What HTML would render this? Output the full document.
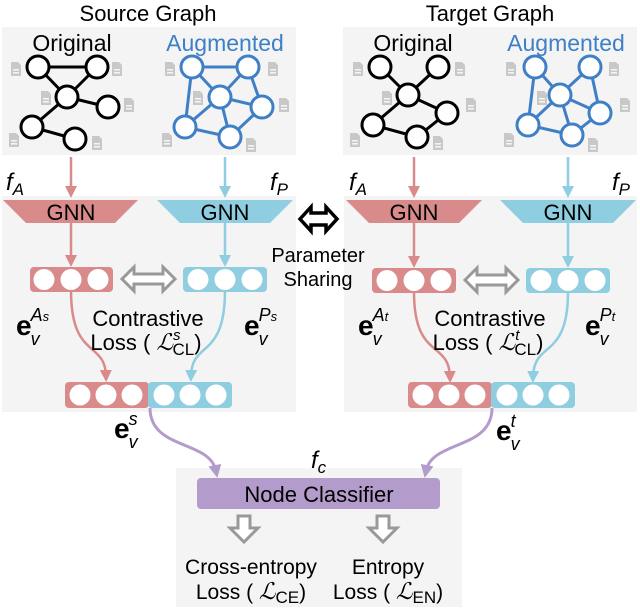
<!DOCTYPE html>
<html><head><meta charset="utf-8"><style>
html,body{margin:0;padding:0;background:#fff}
svg{display:block}
text{font-family:"Liberation Sans",sans-serif}
</style></head><body>
<svg width="640" height="609" viewBox="0 0 640 609" xmlns="http://www.w3.org/2000/svg">
<defs>
<g id="doc"><path d="M0,0 h7 l3,3 v11 h-10 z" fill="#c8c8c8"/><rect x="2" y="7" width="6" height="1.6" fill="#f4f4f4"/><rect x="2" y="10" width="6" height="1.6" fill="#f4f4f4"/></g>
<marker id="ap" markerWidth="12" markerHeight="12" refX="6" refY="6" orient="auto" markerUnits="userSpaceOnUse"><path d="M0,0 L12,6 L0,12 z" fill="#d98a8a"/></marker>
<marker id="ab" markerWidth="12" markerHeight="12" refX="6" refY="6" orient="auto" markerUnits="userSpaceOnUse"><path d="M0,0 L12,6 L0,12 z" fill="#8fcde0"/></marker>
<marker id="au" markerWidth="13" markerHeight="13" refX="6" refY="6.5" orient="auto" markerUnits="userSpaceOnUse"><path d="M0,0 L13,6.5 L0,13 z" fill="#b39ccb"/></marker>
</defs>
<rect x="2" y="27" width="294" height="128" fill="#f4f4f4"/>
<rect x="2" y="196" width="294" height="216" fill="#f4f4f4"/>
<rect x="343" y="27" width="294" height="128" fill="#f4f4f4"/>
<rect x="344" y="196" width="293" height="216" fill="#f4f4f4"/>
<rect x="176" y="468" width="286" height="139" fill="#f4f4f4"/>

<text x="148" y="21" font-size="22" text-anchor="middle">Source Graph</text>
<text x="490" y="21" font-size="22" text-anchor="middle">Target Graph</text>
<text x="72" y="51" font-size="23" text-anchor="middle">Original</text>
<text x="225" y="51" font-size="23" text-anchor="middle" fill="#3f7fc5">Augmented</text>
<text x="413" y="51" font-size="23" text-anchor="middle">Original</text>
<text x="566" y="51" font-size="23" text-anchor="middle" fill="#3f7fc5">Augmented</text>

<g>
<use href="#doc" x="11" y="62"/><use href="#doc" x="112" y="62"/><use href="#doc" x="41" y="91"/><use href="#doc" x="124" y="98"/><use href="#doc" x="9" y="133"/><use href="#doc" x="92" y="136"/>
<use href="#doc" x="165" y="62"/><use href="#doc" x="268" y="62"/><use href="#doc" x="193" y="91"/><use href="#doc" x="279" y="98"/><use href="#doc" x="162" y="133"/><use href="#doc" x="246" y="138"/>
<use href="#doc" x="353" y="62"/><use href="#doc" x="455" y="62"/><use href="#doc" x="382" y="91"/><use href="#doc" x="466" y="98"/><use href="#doc" x="350" y="133"/><use href="#doc" x="433" y="136"/>
<use href="#doc" x="506" y="62"/><use href="#doc" x="609" y="62"/><use href="#doc" x="537" y="91"/><use href="#doc" x="620" y="98"/><use href="#doc" x="504" y="133"/><use href="#doc" x="588" y="138"/>
</g>

<g stroke="#000" stroke-width="3" fill="#fff">
<path d="M38,67 L97,67 M38,67 L67,97 M97,67 L67,97 M67,97 L108,107 M67,97 L32,127 M32,127 L75,139" fill="none"/>
<circle cx="38" cy="67" r="11"/><circle cx="97" cy="67" r="11"/><circle cx="67" cy="97" r="11"/><circle cx="108" cy="107" r="11"/><circle cx="32" cy="127" r="11"/><circle cx="75" cy="139" r="11"/>
</g>
<g stroke="#000" stroke-width="3" fill="#fff">
<path d="M380,67 L408,95 M438,67 L408,95 M408,95 L447,113 M447,113 L417,137 M373,125 L417,137 M408,95 L373,125" fill="none"/>
<circle cx="380" cy="67" r="11"/><circle cx="438" cy="67" r="11"/><circle cx="408" cy="95" r="11"/><circle cx="447" cy="113" r="11"/><circle cx="373" cy="125" r="11"/><circle cx="417" cy="137" r="11"/>
</g>
<g stroke="#3f7fc5" stroke-width="3" fill="#fff">
<path d="M192,67 L248,67 M192,67 L220,97 M248,67 L220,97 M248,67 L262,107 M220,97 L262,107 M220,97 L230,137 M262,107 L230,137 M192,67 L185,127 M185,127 L230,137 M220,97 L185,127" fill="none"/>
<circle cx="192" cy="67" r="11"/><circle cx="248" cy="67" r="11"/><circle cx="220" cy="97" r="11"/><circle cx="262" cy="107" r="11"/><circle cx="185" cy="127" r="11"/><circle cx="230" cy="137" r="11"/>
</g>
<g stroke="#3f7fc5" stroke-width="3" fill="#fff">
<path d="M535,67 L560,95 M590,67 L560,95 M590,67 L600,113 M560,95 L600,113 M560,95 L572,135 M600,113 L572,135 M535,67 L528,125 M528,125 L572,135 M560,95 L528,125" fill="none"/>
<circle cx="535" cy="67" r="11"/><circle cx="590" cy="67" r="11"/><circle cx="560" cy="95" r="11"/><circle cx="600" cy="113" r="11"/><circle cx="528" cy="125" r="11"/><circle cx="572" cy="135" r="11"/>
</g>

<g font-size="24" font-style="italic">
<text x="6" y="190">f<tspan font-size="17" dy="5">A</tspan></text>
<text x="270" y="190">f<tspan font-size="17" dy="5">P</tspan></text>
<text x="349" y="190">f<tspan font-size="17" dy="5">A</tspan></text>
<text x="612" y="190">f<tspan font-size="17" dy="5">P</tspan></text>
<text x="311" y="468">f<tspan font-size="17" dy="5">c</tspan></text>
</g>

<line x1="71" y1="157" x2="71" y2="192" stroke="#d98a8a" stroke-width="2.5" marker-end="url(#ap)"/>
<line x1="225" y1="157" x2="225" y2="192" stroke="#8fcde0" stroke-width="2.5" marker-end="url(#ab)"/>
<line x1="414" y1="157" x2="414" y2="192" stroke="#d98a8a" stroke-width="2.5" marker-end="url(#ap)"/>
<line x1="568" y1="157" x2="568" y2="192" stroke="#8fcde0" stroke-width="2.5" marker-end="url(#ab)"/>

<path d="M3,200 H138 L115,223 H26 Z" fill="#d98a8a"/>
<path d="M157,200 H293 L270,223 H180 Z" fill="#8fcde0"/>
<path d="M346,200 H482 L459,223 H369 Z" fill="#d98a8a"/>
<path d="M500,200 H636 L613,223 H523 Z" fill="#8fcde0"/>
<g font-size="22" text-anchor="middle"><text x="71" y="220">GNN</text><text x="225" y="220">GNN</text><text x="414" y="220">GNN</text><text x="568" y="220">GNN</text></g>

<path d="M300,219 L311,207 V213 H326 V207 L337,219 L326,231 V225 H311 V231 Z" fill="#fff" stroke="#000" stroke-width="3.5"/>
<text x="318" y="262" font-size="20" text-anchor="middle">Parameter</text>
<text x="318" y="286" font-size="20" text-anchor="middle">Sharing</text>

<line x1="71" y1="223" x2="71" y2="261" stroke="#d98a8a" stroke-width="2.5" marker-end="url(#ap)"/>
<line x1="225" y1="223" x2="225" y2="261" stroke="#8fcde0" stroke-width="2.5" marker-end="url(#ab)"/>
<line x1="414" y1="223" x2="414" y2="262" stroke="#d98a8a" stroke-width="2.5" marker-end="url(#ap)"/>
<line x1="568" y1="223" x2="568" y2="262" stroke="#8fcde0" stroke-width="2.5" marker-end="url(#ab)"/>

<path d="M71,290 C71,360 105,340 106,376" fill="none" stroke="#d98a8a" stroke-width="2.5" marker-end="url(#ap)"/>
<path d="M225,290 C225,360 192,340 191,376" fill="none" stroke="#8fcde0" stroke-width="2.5" marker-end="url(#ab)"/>
<path d="M414,292 C414,360 449,340 450,377" fill="none" stroke="#d98a8a" stroke-width="2.5" marker-end="url(#ap)"/>
<path d="M568,292 C568,360 534,340 533,377" fill="none" stroke="#8fcde0" stroke-width="2.5" marker-end="url(#ab)"/>

<g fill="#fff">
<rect x="30" y="267" width="83" height="25" rx="4" fill="#d98a8a"/><circle cx="44" cy="279.5" r="10.5"/><circle cx="71" cy="279.5" r="10.5"/><circle cx="98" cy="279.5" r="10.5"/>
<rect x="183" y="267" width="84" height="25" rx="4" fill="#8fcde0"/><circle cx="198" cy="279.5" r="10.5"/><circle cx="225" cy="279.5" r="10.5"/><circle cx="252" cy="279.5" r="10.5"/>
<rect x="372" y="268" width="84" height="25" rx="4" fill="#d98a8a"/><circle cx="387" cy="280.5" r="10.5"/><circle cx="414" cy="280.5" r="10.5"/><circle cx="441" cy="280.5" r="10.5"/>
<rect x="526" y="268" width="84" height="25" rx="4" fill="#8fcde0"/><circle cx="541" cy="280.5" r="10.5"/><circle cx="568" cy="280.5" r="10.5"/><circle cx="595" cy="280.5" r="10.5"/>
<rect x="65" y="382" width="84" height="26" rx="4" fill="#d98a8a"/><rect x="148" y="382" width="84" height="26" rx="4" fill="#8fcde0"/>
<circle cx="80" cy="395" r="10.5"/><circle cx="106" cy="395" r="10.5"/><circle cx="132" cy="395" r="10.5"/><circle cx="164" cy="395" r="10.5"/><circle cx="190" cy="395" r="10.5"/><circle cx="216" cy="395" r="10.5"/>
<rect x="408" y="382" width="84" height="26" rx="4" fill="#d98a8a"/><rect x="491" y="382" width="84" height="26" rx="4" fill="#8fcde0"/>
<circle cx="423" cy="395" r="10.5"/><circle cx="449" cy="395" r="10.5"/><circle cx="475" cy="395" r="10.5"/><circle cx="507" cy="395" r="10.5"/><circle cx="533" cy="395" r="10.5"/><circle cx="559" cy="395" r="10.5"/>
</g>

<path d="M122,279 L134,267 V274 H163 V267 L175,279 L163,291 V284 H134 V291 Z" fill="#fff" stroke="#999" stroke-width="3"/>
<path d="M465,280 L477,268 V275 H506 V268 L518,280 L506,292 V285 H477 V292 Z" fill="#fff" stroke="#999" stroke-width="3"/>

<g font-size="22" text-anchor="middle">
<text x="148" y="326">Contrastive</text>
<text x="146" y="350">Loss ( <tspan font-style="italic" font-family="Liberation Serif" font-size="23">ℒ</tspan><tspan font-size="15" dy="-10" font-style="italic">s</tspan><tspan font-size="17" dx="-8" dy="15">CL</tspan><tspan dy="-5">)</tspan></text>
<text x="490" y="326">Contrastive</text>
<text x="488" y="350">Loss ( <tspan font-style="italic" font-family="Liberation Serif" font-size="23">ℒ</tspan><tspan font-size="15" dy="-10" font-style="italic">t</tspan><tspan font-size="17" dx="-5" dy="15">CL</tspan><tspan dy="-5">)</tspan></text>
</g>

<g font-size="28" font-weight="bold">
<text x="16" y="335">e<tspan font-size="18" font-weight="normal" font-style="italic" dy="10" dx="-1">v</tspan><tspan font-size="18" font-weight="normal" font-style="italic" dy="-24" dx="-9">A<tspan font-size="13">s</tspan></tspan></text>
<text x="244" y="335">e<tspan font-size="18" font-weight="normal" font-style="italic" dy="10" dx="-1">v</tspan><tspan font-size="18" font-weight="normal" font-style="italic" dy="-24" dx="-9">P<tspan font-size="13">s</tspan></tspan></text>
<text x="358" y="335">e<tspan font-size="18" font-weight="normal" font-style="italic" dy="10" dx="-1">v</tspan><tspan font-size="18" font-weight="normal" font-style="italic" dy="-24" dx="-9">A<tspan font-size="13">t</tspan></tspan></text>
<text x="585" y="335">e<tspan font-size="18" font-weight="normal" font-style="italic" dy="10" dx="-1">v</tspan><tspan font-size="18" font-weight="normal" font-style="italic" dy="-24" dx="-9">P<tspan font-size="13">t</tspan></tspan></text>
<text x="114" y="438">e<tspan font-size="18" font-weight="normal" font-style="italic" dy="10" dx="-1">v</tspan><tspan font-size="18" font-weight="normal" font-style="italic" dy="-23" dx="-9">s</tspan></text>
<text x="496" y="440">e<tspan font-size="18" font-weight="normal" font-style="italic" dy="10" dx="-1">v</tspan><tspan font-size="18" font-weight="normal" font-style="italic" dy="-23" dx="-9">t</tspan></text>
</g>

<path d="M150,408 C150,450 210,440 216,471" fill="none" stroke="#b39ccb" stroke-width="3" marker-end="url(#au)"/>
<path d="M492,408 C492,450 432,440 426,471" fill="none" stroke="#b39ccb" stroke-width="3" marker-end="url(#au)"/>

<rect x="197" y="478" width="243" height="31" rx="4" fill="#b39ccb"/>
<text x="319" y="502" font-size="22" text-anchor="middle">Node Classifier</text>

<path d="M238,516 H250 V528 H258 L244,542 L230,528 H238 Z" fill="#fff" stroke="#999" stroke-width="3"/>
<path d="M377,516 H389 V528 H397 L383,542 L369,528 H377 Z" fill="#fff" stroke="#999" stroke-width="3"/>

<g font-size="21" text-anchor="middle">
<text x="251" y="574">Cross-entropy</text>
<text x="251" y="599">Loss ( <tspan font-style="italic" font-family="Liberation Serif" font-size="23">ℒ</tspan><tspan font-size="17" dy="4">CE</tspan><tspan dy="-4">)</tspan></text>
<text x="388" y="574">Entropy</text>
<text x="388" y="599">Loss ( <tspan font-style="italic" font-family="Liberation Serif" font-size="23">ℒ</tspan><tspan font-size="17" dy="4">EN</tspan><tspan dy="-4">)</tspan></text>
</g>
</svg>
</body></html>
